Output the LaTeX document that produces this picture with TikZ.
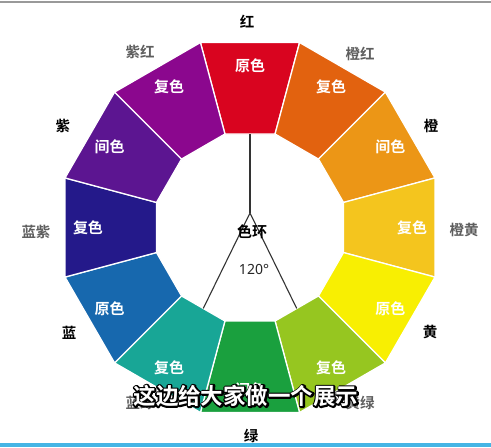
\documentclass[tikz,border=0pt]{standalone}
\usepackage{fontspec}
\setmainfont{Noto Sans}
\newfontfamily\cjk{Noto Sans CJK SC}[BoldFont={Noto Sans CJK SC Bold}]
\definecolor{cRed}{HTML}{D9041F}
\definecolor{cOrRed}{HTML}{E2620F}
\definecolor{cOr}{HTML}{EC9616}
\definecolor{cYeOr}{HTML}{F4C51E}
\definecolor{cYe}{HTML}{F8EF02}
\definecolor{cYeGr}{HTML}{96C620}
\definecolor{cGr}{HTML}{1AA03E}
\definecolor{cTeal}{HTML}{18A696}
\definecolor{cBlue}{HTML}{1768AE}
\definecolor{cIndigo}{HTML}{24198A}
\definecolor{cViolet}{HTML}{5C1591}
\definecolor{cMag}{HTML}{8B078E}
\definecolor{lineBlue}{HTML}{45B5E5}
\definecolor{greyLbl}{HTML}{5E5E5E}
\newcommand{\strokedtext}[1]{\special{pdf:code 1 Tr 3.2 w 1 j 0 0 0 RG}#1\special{pdf:code 0 Tr}}
\begin{document}
\begin{tikzpicture}[x=1pt,y=-1pt,
  seglbl/.style={text=white,font=\cjk\bfseries\fontsize{15}{16}\selectfont,inner sep=0pt},
  mainlbl/.style={text=black,font=\cjk\bfseries\fontsize{14.5}{15}\selectfont,inner sep=0pt},
  sublbl/.style={text=greyLbl,font=\cjk\bfseries\fontsize{14.5}{15}\selectfont,inner sep=0pt},
  wedge/.style={draw=white,line width=1.3pt,line join=round},
  axisline/.style={draw=black!80,line width=1.1pt},
  subtitle/.style={font=\cjk\bfseries\fontsize{22.5}{24}\selectfont,inner sep=0pt}]
\useasboundingbox (0,0) rectangle (491,448);
\fill[white] (0,0) rectangle (491,448);
\draw[black!40,line width=1.6pt] (0,2) -- (491,2);
\fill[lineBlue] (0,443) rectangle (491,447);
\coordinate (C) at (250,227.5);
\begin{scope}[shift={(C)}]
  \foreach \i/\c/\t in {0/cRed/原色,1/cOrRed/复色,2/cOr/间色,3/cYeOr/复色,4/cYe/原色,5/cYeGr/复色,6/cGr/间色,7/cTeal/复色,8/cBlue/原色,9/cIndigo/复色,10/cViolet/间色,11/cMag/复色}{
    \pgfmathsetmacro\a{90-30*\i}
    \path[wedge,fill=\c] (\a-15:191.5pt) -- (\a+15:191.5pt) -- (\a+15:96.8pt) -- (\a-15:96.8pt) -- cycle;
    \node[seglbl] (seg\i) at (\a:162pt) {\t};
  }
  \coordinate (top) at (90:93.5pt);
  \coordinate (hub) at (0pt,14.5pt);
  \coordinate (bl) at (240:93.5pt);
  \coordinate (br) at (300:93.5pt);
\end{scope}
\draw[axisline] (top) -- (hub);
\draw[axisline] (bl) -- (hub) -- (br);
\node[mainlbl,font=\cjk\bfseries\fontsize{15}{16}\selectfont] (ring) at (252,232) {色环};
\node[text=black!85,font=\fontsize{14}{15}\selectfont,inner sep=0pt] (deg) at (254,269) {120°};
% outer labels
\node[mainlbl] (hong) at (247,22) {红};
\node[sublbl] (zihong) at (140,52) {紫红};
\node[sublbl] (chenghong) at (360,54) {橙红};
\node[mainlbl] (zi) at (63,126) {紫};
\node[mainlbl] (cheng) at (431,126) {橙};
\node[sublbl] (lanzi) at (36,232) {蓝紫};
\node[sublbl] (chenghuang) at (464,230) {橙黄};
\node[mainlbl] (lan) at (69,333) {蓝};
\node[mainlbl] (huang) at (430,332) {黄};
\node[sublbl] (lanlv) at (140,403) {蓝绿};
\node[sublbl] (huanglv) at (360,403) {黄绿};
\node[mainlbl] (lv) at (251,436) {绿};
% subtitle: black stroke underneath, white fill on top
\node[subtitle,text=black] (subline) at (246,396) {\strokedtext{这边给大家做一个展示}};
\node[subtitle,text=white] (sub) at (246,396) {这边给大家做一个展示};
\end{tikzpicture}
\end{document}
